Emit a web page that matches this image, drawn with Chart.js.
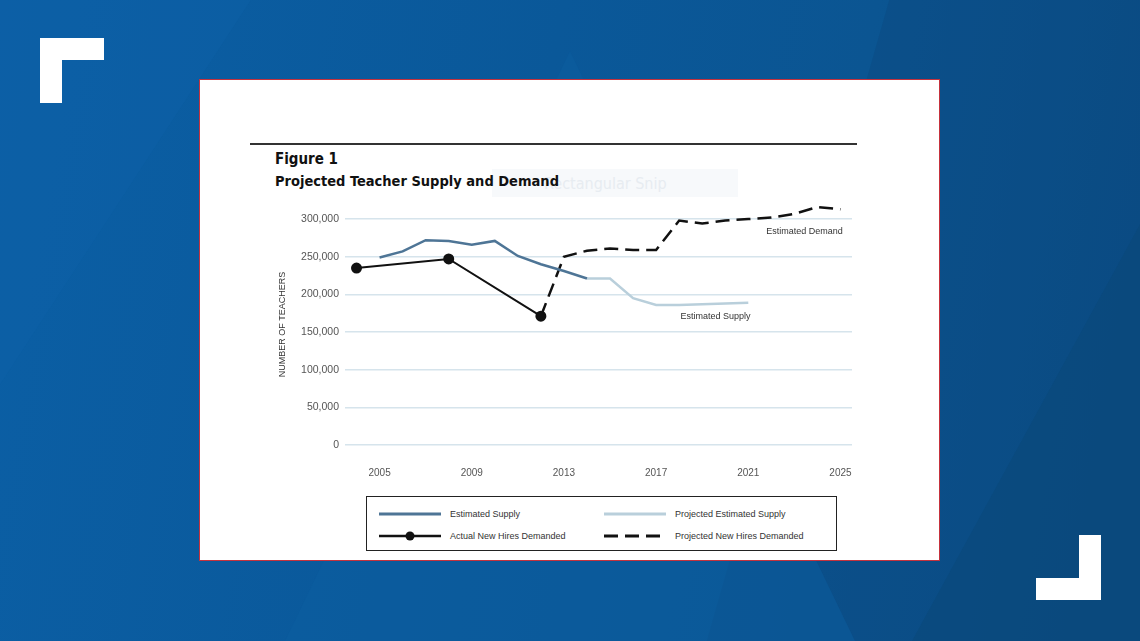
<!DOCTYPE html>
<html>
<head>
<meta charset="utf-8">
<script src="https://cdn.jsdelivr.net/npm/chart.js@4.4.1/dist/chart.umd.min.js"></script>
<style>
    html, body { margin: 0; padding: 0; }
    body {
        width: 1140px; height: 641px; position: relative; overflow: hidden;
        background: linear-gradient(100deg, #0b5fa5 0%, #0a5899 45%, #0b5592 70%, #0a4c83 100%);
        font-family: 'Liberation Sans', Arial, sans-serif;
    }
    .shape { position: absolute; }
    .bracket { position: absolute; background: #fff; }
    #panel {
        position: absolute; left: 199px; top: 79px; width: 739px; height: 480px;
        background: #fff; border: 1px solid #c5323d;
    }
    #rule { position: absolute; left: 250px; top: 143px; width: 607px; height: 2px; background: #333; }
    .title {
        position: absolute; left: 275px; color: #111; font-weight: bold; white-space: nowrap;
        font-family: 'Liberation Sans Narrow', 'DejaVu Sans Condensed', sans-serif;
    }
    #snip {
        position: absolute; left: 492px; top: 169px; width: 246px; height: 28px;
        background: #f7f9fb; color: #e7ecf1; font-size: 16px; line-height: 30px;
        font-family: 'DejaVu Sans Condensed', sans-serif; text-indent: 52px; white-space: nowrap;
    }
    #chartBox { position: absolute; left: 277px; top: 195px; width: 585px; height: 295px; }
    #legend {
        position: absolute; left: 366px; top: 496px; width: 469px; height: 53px;
        border: 1px solid #222; background: #fff;
    }
    .item { position: absolute; font-size: 9px; color: #333; height: 14px; line-height: 14px; }
    .item svg { position: absolute; left: 0; top: 0; }
    .item span { position: absolute; white-space: nowrap; }
</style>
</head>
<body>
<div class="shape" style="left:0;top:0;width:1140px;height:641px;background:#0d62aa;opacity:.35;clip-path:polygon(0 0,22% 0,0 60%);"></div>
<div class="shape" style="left:0;top:0;width:1140px;height:641px;background:#0a4a80;opacity:.45;clip-path:polygon(78% 0,100% 0,100% 100%,62% 100%);"></div>
<div class="shape" style="left:0;top:0;width:1140px;height:641px;background:#0c5da0;opacity:.5;clip-path:polygon(50% 8%,75% 100%,25% 100%);"></div>
<div class="shape" style="left:0;top:0;width:1140px;height:641px;background:#094778;opacity:.5;clip-path:polygon(100% 35%,100% 100%,80% 100%);"></div>

<div class="bracket" style="left:40px;top:38px;width:64px;height:22px;"></div>
<div class="bracket" style="left:40px;top:38px;width:22px;height:65px;"></div>
<div class="bracket" style="left:1036px;top:578px;width:65px;height:22px;"></div>
<div class="bracket" style="left:1079px;top:535px;width:22px;height:65px;"></div>

<div id="panel"></div>
<div id="rule"></div>
<div class="title" style="top:150px;font-size:15px;">Figure 1</div>
<div id="snip">Rectangular Snip</div>
<div class="title" style="top:173px;font-size:14.5px;">Projected Teacher Supply and Demand</div>
<div id="chartBox"><canvas id="teacherChart"></canvas></div>
<div id="legend"></div>

<script>
// Donnees
const YEARS_SUPPLY = [2005, 2006, 2007, 2008, 2009, 2010, 2011, 2012, 2013, 2014];
const SUPPLY = [249000, 257000, 272000, 271000, 266000, 271000, 251000, 240000, 231000, 221000];

const YEARS_PROJ_SUPPLY = [2014, 2015, 2016, 2017, 2018, 2019, 2020, 2021];
const PROJ_SUPPLY = [221000, 221000, 195000, 186000, 186000, 187000, 188000, 189000];

const YEARS_ACTUAL = [2004, 2008, 2012];
const ACTUAL_HIRES = [235000, 247000, 171000];

const YEARS_PROJ_HIRES = [2012, 2013, 2014, 2015, 2016, 2017, 2018, 2019, 2020, 2021, 2022, 2023, 2024, 2025];
const PROJ_HIRES = [171000, 250000, 258000, 261000, 259000, 259000, 298000, 294000, 298000, 300000, 302000, 307000, 316000, 313000];

const X_TICKS = [2005, 2009, 2013, 2017, 2021, 2025];
const Y_TICKS = [0, 50000, 100000, 150000, 200000, 250000, 300000];

const NOTES = [
    { text: 'Estimated Demand', x: 2025.1, y: 283000 },
    { text: 'Estimated Supply', x: 2021.1, y: 171000 }
];

const COLORS = {
    supply: '#4e7596',
    projSupply: '#b9cfdb',
    hires: '#111111',
    grid: '#d6e4ec',
    text: '#555555'
};

function toPoints(xs, ys) {
    return xs.map((x, i) => ({ x: x, y: ys[i] }));
}

const datasets = [
    {
        label: 'Estimated Supply',
        data: toPoints(YEARS_SUPPLY, SUPPLY),
        borderColor: COLORS.supply, borderWidth: 2.5, pointRadius: 0
    },
    {
        label: 'Projected Estimated Supply',
        data: toPoints(YEARS_PROJ_SUPPLY, PROJ_SUPPLY),
        borderColor: COLORS.projSupply, borderWidth: 2.5, pointRadius: 0
    },
    {
        label: 'Actual New Hires Demanded',
        data: toPoints(YEARS_ACTUAL, ACTUAL_HIRES),
        borderColor: COLORS.hires, backgroundColor: COLORS.hires,
        borderWidth: 2, pointRadius: 4.5, pointHoverRadius: 4.5
    },
    {
        label: 'Projected New Hires Demanded',
        data: toPoints(YEARS_PROJ_HIRES, PROJ_HIRES),
        borderColor: COLORS.hires, borderWidth: 2.5, pointRadius: 0,
        borderDash: [14, 7]
    }
];

// Textes places sur le graphique
const notesPlugin = {
    id: 'notes',
    afterDatasetsDraw(chart) {
        const ctx = chart.ctx;
        const xs = chart.scales.x, ys = chart.scales.y;
        ctx.save();
        ctx.font = "9px 'Liberation Sans', Arial, sans-serif";
        ctx.fillStyle = '#333';
        ctx.textAlign = 'right';
        ctx.textBaseline = 'middle';
        NOTES.forEach(n => ctx.fillText(n.text, xs.getPixelForValue(n.x), ys.getPixelForValue(n.y)));
        ctx.restore();
    }
};

const FONT = { family: "'Liberation Sans', Arial, sans-serif", size: 10.5 };

new Chart(document.getElementById('teacherChart'), {
    type: 'line',
    data: { datasets: datasets },
    options: {
        responsive: true,
        maintainAspectRatio: false,
        animation: false,
        layout: { padding: { top: 9, right: 10, left: 0, bottom: 0 } },
        plugins: { legend: { display: false }, tooltip: { enabled: false } },
        scales: {
            x: {
                type: 'linear', min: 2003.5, max: 2025.5,
                afterBuildTicks: s => { s.ticks = X_TICKS.map(v => ({ value: v })); },
                afterFit: s => { s.height = 45; s.paddingLeft = 0; s.paddingRight = 0; },
                grid: { display: false, drawTicks: false },
                border: { display: false },
                ticks: { color: COLORS.text, font: { family: FONT.family, size: 10 }, padding: 22, callback: v => String(v) }
            },
            y: {
                min: 0, max: 320000,
                afterBuildTicks: s => { s.ticks = Y_TICKS.map(v => ({ value: v })); },
                afterFit: s => { s.width = 68; s.paddingTop = 0; s.paddingBottom = 0; },
                grid: { color: COLORS.grid, lineWidth: 1.5, drawTicks: false },
                border: { display: false },
                title: {
                    display: true, text: 'NUMBER OF TEACHERS', color: '#333',
                    font: { family: FONT.family, size: 9 }, padding: { top: 0, bottom: 0 }
                },
                ticks: {
                    color: COLORS.text, font: FONT, padding: 6,
                    callback: v => v.toLocaleString('en-US')
                }
            }
        }
    },
    plugins: [notesPlugin]
});

// Legende construite a partir des jeux de donnees
const legendPos = [
    { left: 12, top: 10 }, { left: 237, top: 10 },
    { left: 12, top: 32 }, { left: 237, top: 32 }
];
const legendEl = document.getElementById('legend');
datasets.forEach((d, i) => {
    const dash = d.borderDash ? ` stroke-dasharray="${d.borderDash.join(' ')}"` : '';
    const dot = d.pointRadius ? `<circle cx="31" cy="7" r="4.5" fill="${d.borderColor}"/>` : '';
    const item = document.createElement('div');
    item.className = 'item';
    item.style.left = legendPos[i].left + 'px';
    item.style.top = legendPos[i].top + 'px';
    item.innerHTML =
        `<svg width="62" height="14"><line x1="0" y1="7" x2="62" y2="7" stroke="${d.borderColor}" stroke-width="${d.borderWidth + 0.5}"${dash}/>${dot}</svg>` +
        `<span style="left:71px">${d.label}</span>`;
    legendEl.appendChild(item);
});
</script>
</body>
</html>
